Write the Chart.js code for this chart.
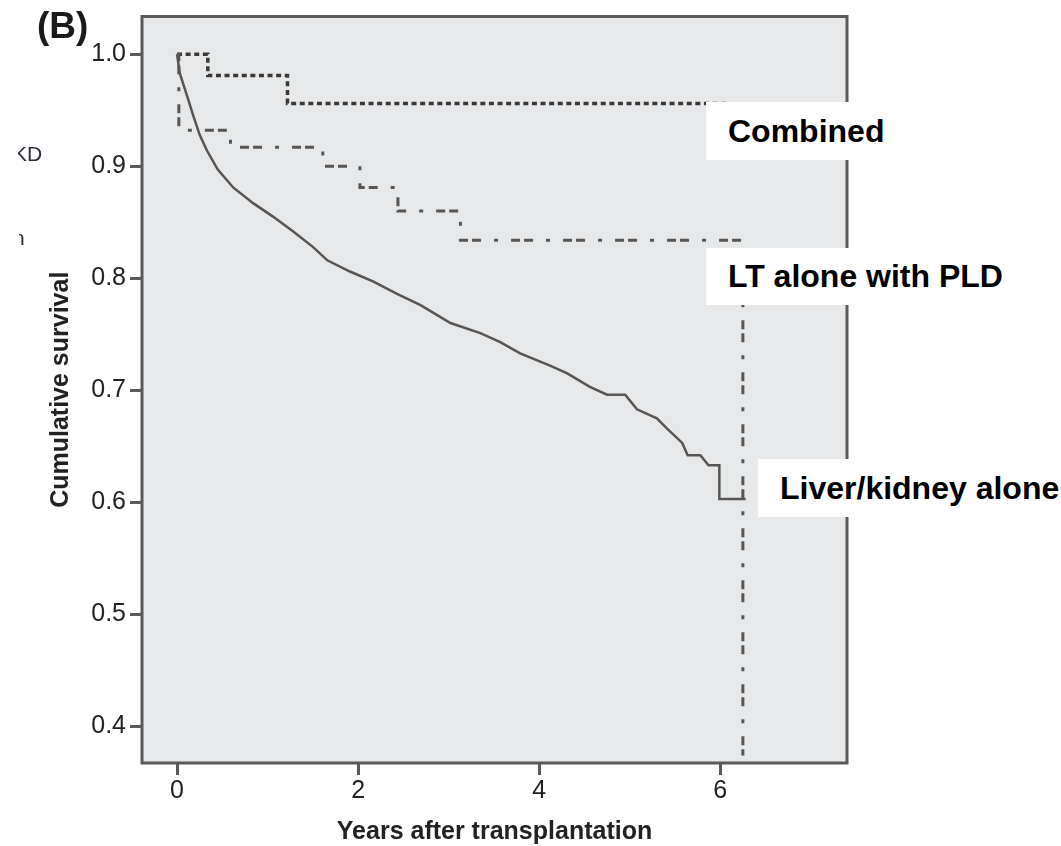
<!DOCTYPE html>
<html>
<head>
<meta charset="utf-8">
<script src="https://cdn.jsdelivr.net/npm/chart.js@4"></script>
<style>
  html, body { margin: 0; padding: 0; background: #fff; }
  #wrap { position: relative; width: 1061px; height: 846px; overflow: hidden; font-family: "Liberation Sans", Arial, sans-serif; }
  canvas { position: absolute; left: 0; top: 0; }
  .tag { position: absolute; background: #fff; right: 0; display: flex; align-items: center;
         font-weight: bold; font-size: 32px; color: #000; box-sizing: border-box; padding-left: 22px; }
  .panel { position: absolute; left: 37px; top: 5px; font-weight: bold; font-size: 37px; color: #1a1a1a; }
  .frag { position: absolute; overflow: hidden; color: #2a2a3a; font-size: 21px; }
</style>
</head>
<body>
<div id="wrap">
  <canvas id="km" width="1061" height="846"></canvas>
  <div class="panel">(B)</div>
  <div class="frag" style="left:18px; top:142px; width:30px; height:26px;"><span style="position:relative; left:-5px;">KD</span></div>
  <div class="frag" style="left:19px; top:226px; width:8px; height:22px;"><span style="position:relative; left:-6px;">n</span></div>
  <div class="tag" style="left:706px; top:102px; height:58px;">Combined</div>
  <div class="tag" style="left:706px; top:248px; height:57px;">LT alone with PLD</div>
  <div class="tag" style="left:758px; top:459px; height:58px;">Liver/kidney alone</div>
</div>
<script>
// tick values
const xTicks = [0, 2, 4, 6];
const yTicks = [0.4, 0.5, 0.6, 0.7, 0.8, 0.9, 1.0];

// Combined (dotted)
const combinedYears = [0, 0.34, 1.22, 6.08];
const combinedSurv = [1.0, 0.981, 0.956, 0.956];

// LT alone with PLD (dash-dot)
const ltYears = [0, 0.02, 0.59, 1.61, 2.02, 2.44, 3.13, 6.25, 6.25];
const ltSurv = [1.0, 0.932, 0.917, 0.900, 0.881, 0.860, 0.834, 0.834, 0.374];

// Liver/kidney alone (solid)
const liverYears = [0, 0.03, 0.11, 0.18, 0.25, 0.33, 0.45, 0.62, 0.84, 1.06, 1.28, 1.50, 1.66, 1.91, 2.17, 2.43, 2.69, 3.02, 3.35, 3.57, 3.79, 4.12, 4.31, 4.56, 4.75, 4.95, 5.08, 5.30, 5.41, 5.58, 5.64, 5.78, 5.87, 5.99, 5.99, 6.28];
const liverSurv = [1.0, 0.983, 0.963, 0.945, 0.928, 0.914, 0.897, 0.881, 0.867, 0.855, 0.842, 0.828, 0.816, 0.806, 0.797, 0.786, 0.776, 0.760, 0.751, 0.743, 0.733, 0.722, 0.715, 0.703, 0.696, 0.696, 0.683, 0.675, 0.666, 0.653, 0.642, 0.642, 0.633, 0.633, 0.603, 0.603];

const pts = (xs, ys) => xs.map((x, i) => ({x: x, y: ys[i]}));

const plotFrame = {
  id: 'plotFrame',
  beforeDraw(chart) {
    const {ctx, chartArea: a} = chart;
    ctx.save();
    ctx.fillStyle = '#e7e8ea';
    ctx.fillRect(a.left, a.top, a.right - a.left, a.bottom - a.top);
    ctx.restore();
  },
  afterDatasetsDraw(chart) {
    const {ctx, chartArea: a} = chart;
    ctx.save();
    ctx.strokeStyle = '#5a5a5a';
    ctx.lineWidth = 3;
    ctx.strokeRect(a.left, a.top, a.right - a.left, a.bottom - a.top);
    ctx.restore();
  }
};

const titleFont = {family: '"Liberation Sans", Arial, sans-serif', size: 25, weight: 'bold', lineHeight: 1};
const tickFont = {family: '"Liberation Sans", Arial, sans-serif', size: 25, lineHeight: 1};

new Chart(document.getElementById('km').getContext('2d'), {
  type: 'line',
  data: {
    datasets: [
      {label: 'Liver/kidney alone', data: pts(liverYears, liverSurv), borderColor: '#555', borderWidth: 2.5, pointRadius: 0, fill: false, tension: 0},
      {label: 'LT alone with PLD', data: pts(ltYears, ltSurv), stepped: true, borderColor: '#555', borderWidth: 3, borderDash: [9, 4, 9, 13, 4, 13], pointRadius: 0, fill: false},
      {label: 'Combined', data: pts(combinedYears, combinedSurv), stepped: true, borderColor: '#383838', borderWidth: 3.5, borderDash: [5, 3.6], pointRadius: 0, fill: false}
    ]
  },
  options: {
    responsive: false,
    animation: false,
    layout: {padding: {left: 0, top: 10, right: 214, bottom: 0}},
    plugins: {legend: {display: false}, tooltip: {enabled: false}},
    scales: {
      x: {
        type: 'linear', min: -0.387, max: 7.40,
        afterBuildTicks: s => { s.ticks = xTicks.map(v => ({value: v})); },
        afterFit: s => { s.height = 83; },
        grid: {drawOnChartArea: false, drawTicks: true, tickLength: 12, tickWidth: 3, tickColor: '#5a5a5a'},
        border: {display: false},
        ticks: {font: tickFont, color: '#222', padding: 4, callback: v => String(v)},
        title: {display: true, text: 'Years after transplantation', font: titleFont, color: '#222', padding: {top: 0, bottom: 1}}
      },
      y: {
        type: 'linear', min: 0.3673, max: 1.0336,
        afterBuildTicks: s => { s.ticks = yTicks.map(v => ({value: v})); },
        afterFit: s => { s.width = 142; },
        grid: {drawOnChartArea: false, drawTicks: true, tickLength: 12, tickWidth: 3, tickColor: '#5a5a5a'},
        border: {display: false},
        ticks: {font: tickFont, color: '#222', padding: 4, callback: v => v.toFixed(1)},
        title: {display: true, text: 'Cumulative survival', font: titleFont, color: '#222', padding: {top: 49, bottom: 0}}
      }
    }
  },
  plugins: [plotFrame]
});
</script>
</body>
</html>
